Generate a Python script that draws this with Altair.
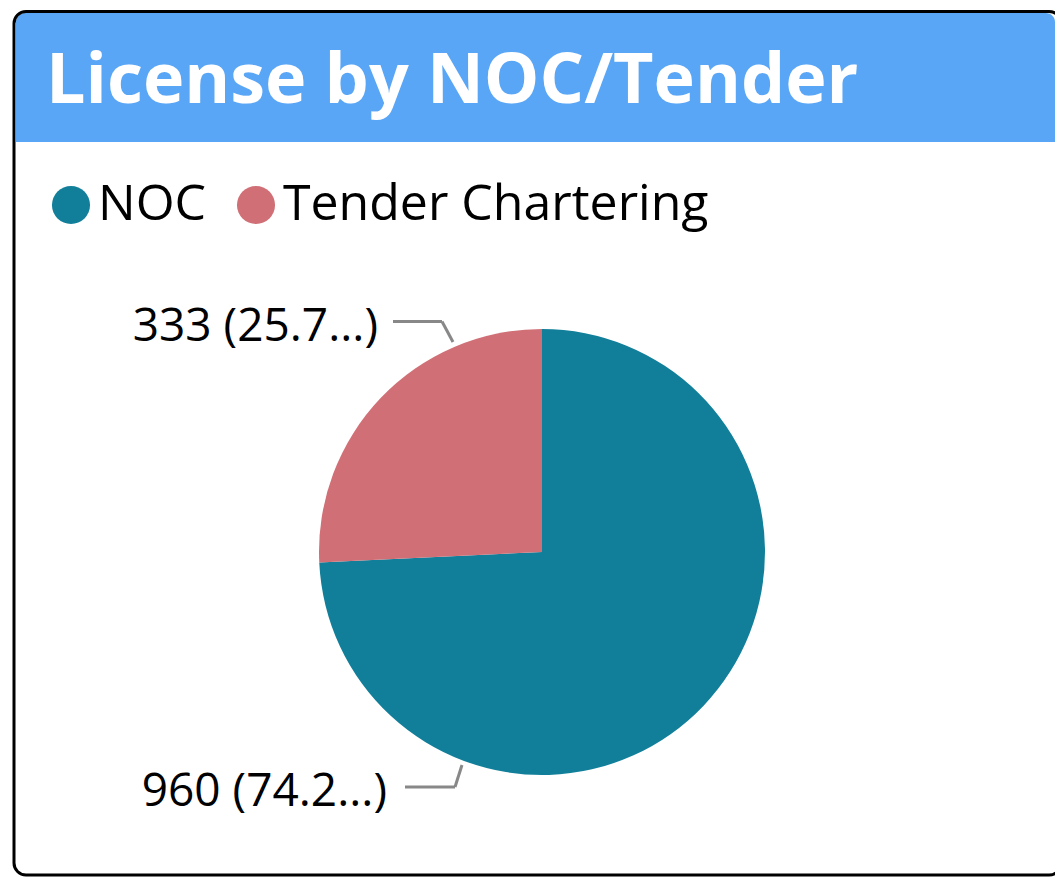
import altair as alt
import pandas as pd

# ---- data ----
categories = ["NOC", "Tender Chartering"]
values = [960, 333]
label_texts = ["960 (74.2...)", "333 (25.7...)"]
colors = ["#117F9A", "#D06F75"]
title_text = "License by NOC/Tender"

W, H = 1047, 870
FONT = "Segoe UI, Open Sans, Noto Sans, sans-serif"

pie_df = pd.DataFrame({"category": categories, "value": values, "order": list(range(len(categories)))})
one = pd.DataFrame({"k": [0]})

bar = alt.Chart(one).mark_rect(fill="#5AA6F6", cornerRadiusTopLeft=9, cornerRadiusTopRight=9).encode(
    x=alt.value(8), x2=alt.value(1047), y=alt.value(5), y2=alt.value(134)
)
border = alt.Chart(one).mark_rect(filled=False, stroke="#000000", strokeWidth=3, cornerRadius=12).encode(
    x=alt.value(6), x2=alt.value(1053), y=alt.value(3.5), y2=alt.value(867)
)
title = alt.Chart(pd.DataFrame({"t": [title_text]})).mark_text(
    font=FONT, fontSize=70, fontWeight="bold", color="white", align="left", baseline="alphabetic"
).encode(text="t:N", x=alt.value(38), y=alt.value(95))

pie = alt.Chart(pie_df).mark_arc(outerRadius=223).encode(
    theta=alt.Theta("value:Q", stack=True),
    order=alt.Order("order:Q"),
    color=alt.Color(
        "category:N",
        scale=alt.Scale(domain=categories, range=colors),
        legend=alt.Legend(
            title=None, orient="none", direction="horizontal", legendX=38, legendY=172,
            symbolType="circle", symbolSize=1450, symbolStrokeWidth=0, symbolOpacity=1,
            labelFontSize=50, labelFont=FONT, labelColor="#000000", labelOffset=2,
            columnPadding=24, padding=0, labelLimit=600,
        ),
    ),
    x=alt.value(534), y=alt.value(544),
)

lab_df = pd.DataFrame({"label": label_texts})
lab_noc = alt.Chart(lab_df.iloc[[0]]).mark_text(
    font=FONT, fontSize=46, color="#000000", align="right", baseline="alphabetic"
).encode(text="label:N", x=alt.value(379), y=alt.value(798))
lab_tender = alt.Chart(lab_df.iloc[[1]]).mark_text(
    font=FONT, fontSize=46, color="#000000", align="right", baseline="alphabetic"
).encode(text="label:N", x=alt.value(370), y=alt.value(333))

def seg(x1, y1, x2, y2):
    return alt.Chart(one).mark_rule(color="#888888", strokeWidth=3).encode(
        x=alt.value(x1), y=alt.value(y1), x2=alt.value(x2), y2=alt.value(y2)
    )

leaders = [
    seg(385, 313.5, 434, 313.5), seg(434, 313.5, 445, 334),
    seg(397, 779, 447, 779), seg(447, 779, 454, 757),
]

chart = alt.layer(bar, border, title, pie, lab_noc, lab_tender, *leaders).properties(
    width=W, height=H, autosize=alt.AutoSizeParams(type="none"), padding=0
).configure_view(stroke=None)

chart.save("out.html", embed_options={"renderer": "svg", "actions": False})
